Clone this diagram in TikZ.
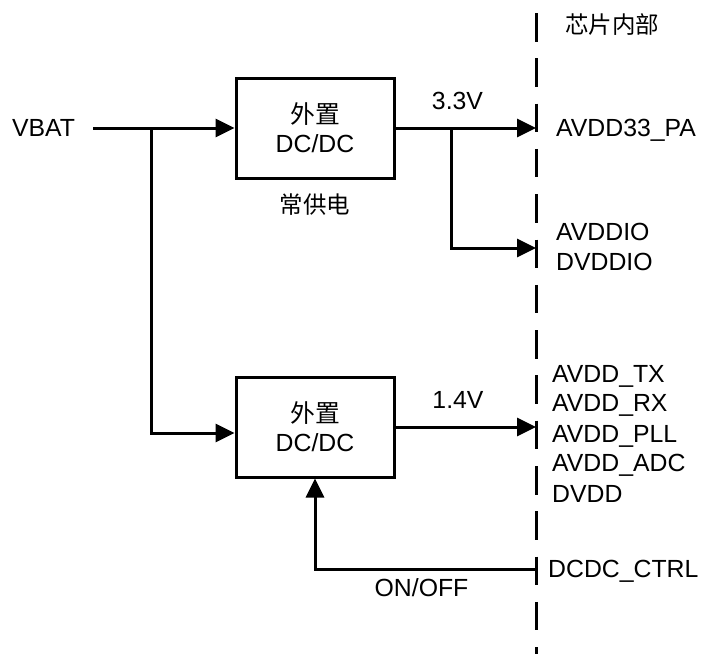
\documentclass[tikz,border=0pt]{standalone}
\usepackage{fontspec}
\setmainfont{Liberation Sans}
\newfontfamily\cjk{Noto Sans CJK SC}
\usetikzlibrary{arrows.meta,calc}
\begin{document}
\begin{tikzpicture}[x=1pt,y=-1pt,
  wire/.style={line width=3pt},
  arr/.style={wire,-{Triangle[length=19pt,width=18pt]}},
  box/.style={draw,line width=3pt,minimum width=158pt,minimum height=100pt,align=center,inner sep=0pt,font=\fontsize{24.8}{29}\selectfont},
  lbl/.style={inner sep=0pt,anchor=base west,font=\fontsize{24.8}{29}\selectfont},
  clbl/.style={inner sep=0pt,anchor=base,font=\fontsize{24.8}{29}\selectfont},
  cjklbl/.style={inner sep=0pt,font=\cjk\fontsize{23.5}{29}\selectfont},
  chip/.style={line width=3pt,dash pattern=on 28.5pt off 16.8pt,dash phase=32.3pt}
]
\useasboundingbox (0,0) rectangle (704,654);

% chip boundary
\coordinate (ctop) at (536,0);
\coordinate (cbot) at (536,654);
\draw[chip] (ctop) -- (cbot);
\node[cjklbl] (chipin) at (612,25) {芯片内部};

% boxes
\node[box] (b1) at (315,128) {{\cjk 外置}\\DC/DC};
\node[box] (b2) at (315,427) {{\cjk 外置}\\DC/DC};
\node[cjklbl] (always) at (315,205) {常供电};

% input
\node[clbl] (vbat) at (43.5,136.6) {VBAT};
\coordinate (vin) at (93,128);
\coordinate (j1) at (151,128);
\draw[arr] (vin) -- (b1.west);
\draw[arr] (j1) |- ($(b2.west)+(0,6)$);

% chip pins
\coordinate (p33) at (536,128);
\coordinate (pio) at (536,248);
\coordinate (p14) at (536,427);
\coordinate (pctl) at (536,569);
\coordinate (j2) at (451,128);

\draw[arr] (b1.east) -- (p33);
\draw[arr] (j2) |- (pio);
\draw[arr] (b2.east) -- (p14);
\draw[arr] (pctl) -| (b2.south);

% labels
\node[clbl] (v33) at (457.5,109.6) {3.3V};
\node[clbl] (v14) at (458,408.6) {1.4V};
\node[clbl] (onoff) at (421.5,596.6) {ON/OFF};

\node[lbl] (pa) at (556,136.6) {AVDD33\_PA};
\node[lbl] (avddio) at (556,240.6) {AVDDIO};
\node[lbl] (dvddio) at (556,270.6) {DVDDIO};
\node[lbl] (tx) at (552,382.6) {AVDD\_TX};
\node[lbl] (rx) at (552,411.6) {AVDD\_RX};
\node[lbl] (pll) at (552,442.6) {AVDD\_PLL};
\node[lbl] (adc) at (552,471.6) {AVDD\_ADC};
\node[lbl] (dvdd) at (552,502.6) {DVDD};
\node[lbl] (ctrl) at (548,577.6) {DCDC\_CTRL};
\end{tikzpicture}
\end{document}
